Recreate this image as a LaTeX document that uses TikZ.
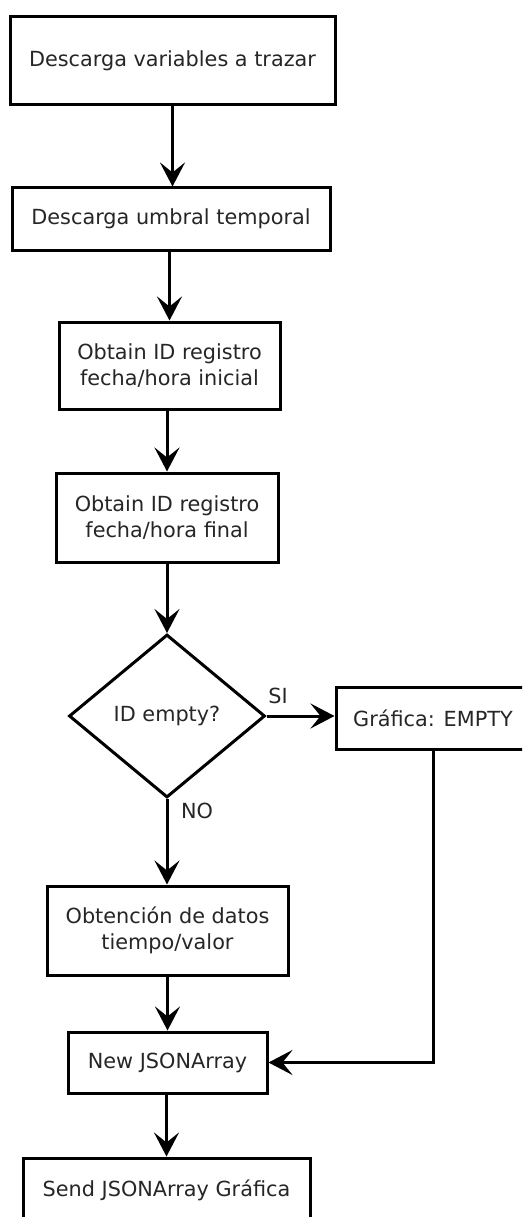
\documentclass[tikz,border=0pt]{standalone}
\usepackage{fontspec}
\setmainfont{DejaVu Sans}
\usetikzlibrary{arrows.meta,shapes.geometric}
\begin{document}
\begin{tikzpicture}[x=1pt,y=-1pt,
  every node/.style={text=black!85, font=\fontsize{20.8}{26}\selectfont},
  procbox/.style={draw=black, line width=3pt, fill=white, align=center, inner sep=0pt},
  decision/.style={draw=black, line width=3pt, diamond, inner sep=0pt},
  flow/.style={line width=3pt, -{Stealth[length=24pt 0 0,width=25pt 0 0,inset=10pt 0 0]}},
  branch/.style={inner sep=0pt}]
\useasboundingbox (0,0) rectangle (522,1217);
\clip (0,0) rectangle (522,1217);

% process steps
\node[procbox, minimum width=325pt, minimum height=88pt] (b1) at (172.5,61) {Descarga variables a trazar};
\node[procbox, minimum width=318pt, minimum height=62pt] (b2) at (171,219) {Descarga umbral temporal};
\node[procbox, minimum width=221pt, minimum height=87pt] (b3) at (169.5,365.5) {Obtain ID registro\\fecha/hora inicial};
\node[procbox, minimum width=222pt, minimum height=89pt] (b4) at (167,517.5) {Obtain ID registro\\fecha/hora final};
\node[decision, minimum width=196pt, minimum height=163pt] (d) at (167,716) {ID empty?};
\node[procbox, minimum width=194pt, minimum height=62pt] (g) at (433,718) {Gráfica: EMPTY};
\node[procbox, minimum width=241pt, minimum height=89pt] (o) at (167.5,930.5) {Obtención de datos\\tiempo/valor};
\node[procbox, minimum width=199pt, minimum height=61pt] (n) at (167.5,1062.5) {New JSONArray};
\node[procbox, minimum width=287pt, minimum height=64pt] (s) at (166.5,1190) {Send JSONArray Gráfica};

% branch labels
\node[branch] (si) at (278,696) {SI};
\node[branch] (no) at (197,811) {NO};

% connectors
\draw[flow] (b1.south) -- (b1.south |- b2.north);
\draw[flow] (b2.south -| b3.north) -- (b3.north);
\draw[flow] (b3.south -| b4.north) -- (b4.north);
\draw[flow] (b4.south -| d.north) -- (d.north);
\draw[flow] (d.east) -- (d.east -| g.west);
\draw[flow] (d.south) -- (d.south |- o.north);
\draw[flow] (o.south -| n.north) -- (n.north);
\draw[flow] (g.south) |- (n.east);
\draw[flow] (n.south -| s.north) -- (s.north);
\end{tikzpicture}
\end{document}
